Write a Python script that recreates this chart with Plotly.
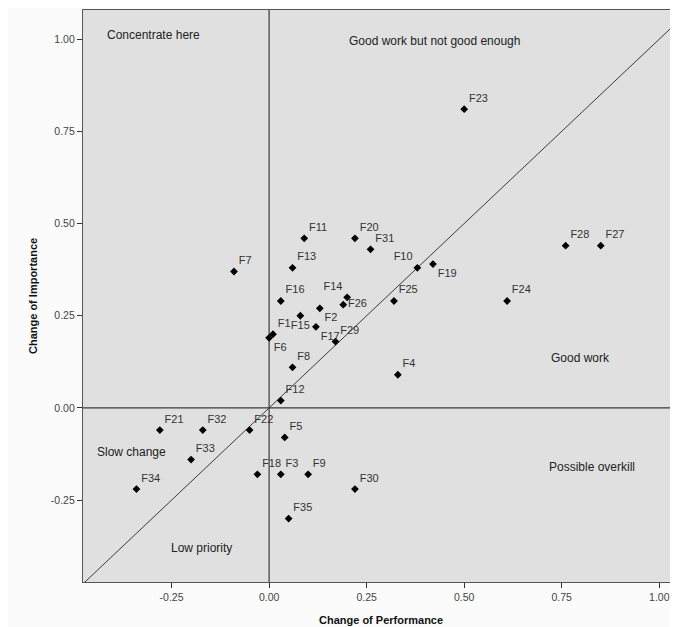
import plotly.graph_objects as go

labels = ["F1", "F2", "F3", "F4", "F5", "F6", "F7", "F8", "F9", "F10",
          "F11", "F12", "F13", "F14", "F15", "F16", "F17", "F18", "F19", "F20",
          "F21", "F22", "F23", "F24", "F25", "F26", "F27", "F28", "F29", "F30",
          "F31", "F32", "F33", "F34", "F35"]
performance = [0.01, 0.13, 0.03, 0.33, 0.04, 0.00, -0.09, 0.06, 0.10, 0.38,
               0.09, 0.03, 0.06, 0.20, 0.08, 0.03, 0.12, -0.03, 0.42, 0.22,
               -0.28, -0.05, 0.50, 0.61, 0.32, 0.19, 0.85, 0.76, 0.17, 0.22,
               0.26, -0.17, -0.20, -0.34, 0.05]
importance = [0.20, 0.27, -0.18, 0.09, -0.08, 0.19, 0.37, 0.11, -0.18, 0.38,
              0.46, 0.02, 0.38, 0.30, 0.25, 0.29, 0.22, -0.18, 0.39, 0.46,
              -0.06, -0.06, 0.81, 0.29, 0.29, 0.28, 0.44, 0.44, 0.18, -0.22,
              0.43, -0.06, -0.14, -0.22, -0.30]
label_pos = {"F2": "bottom right", "F6": "bottom right", "F10": "top left",
             "F14": "top left", "F15": "bottom center", "F17": "bottom right",
             "F19": "bottom right", "F26": "middle right"}
positions = [label_pos.get(l, "top right") for l in labels]

x_range = [-0.477, 1.048]
y_range = [-0.472, 1.079]
tick_vals = [-0.25, 0.0, 0.25, 0.5, 0.75, 1.0]
tick_text = ["-0.25", "0.00", "0.25", "0.50", "0.75", "1.00"]

quad_text = ["Concentrate here", "Good work but not good enough", "Good work",
             "Possible overkill", "Slow change", "Low priority"]
quad_x = [-0.297, 0.425, 0.797, 0.828, -0.353, -0.173]
quad_y = [1.01, 0.995, 0.135, -0.16, -0.119, -0.379]

line_col = "#3a3a3a"
fig = go.Figure()

# diagonal y = x
diag_lo = min(x_range[0], y_range[0]) - 0.05
diag_hi = max(x_range[1], y_range[1]) + 0.05
fig.add_trace(go.Scatter(x=[diag_lo, diag_hi], y=[diag_lo, diag_hi], mode="lines",
                         line=dict(color=line_col, width=1), hoverinfo="skip",
                         showlegend=False))

fig.add_trace(go.Scatter(
    x=performance, y=importance, mode="markers+text", text=labels,
    textposition=positions,
    textfont=dict(family="Liberation Sans, Arial", size=11, color="#333333"),
    marker=dict(symbol="diamond", size=6, color="#000000"),
    showlegend=False, cliponaxis=False))

fig.add_shape(type="line", x0=0, x1=0, y0=0, y1=1, xref="x", yref="paper",
              line=dict(color=line_col, width=1.2), layer="below")
fig.add_shape(type="line", x0=0, x1=1, y0=0, y1=0, xref="paper", yref="y",
              line=dict(color=line_col, width=1.2), layer="below")

for t, xx, yy in zip(quad_text, quad_x, quad_y):
    fig.add_annotation(x=xx, y=yy, text=t, showarrow=False,
                       font=dict(family="Liberation Sans, Arial", size=12, color="#222222"))

fig.add_annotation(x=0.5, y=0, xref="paper", yref="paper", yshift=-38,
                   xanchor="center", yanchor="middle",
                   text="<b>Change of Performance</b>", showarrow=False,
                   font=dict(family="Liberation Sans, Arial", size=11, color="#111111"))
fig.add_annotation(x=0, y=0.5, xref="paper", yref="paper", xshift=-50,
                   xanchor="center", yanchor="middle",
                   text="<b>Change of Importance</b>", showarrow=False, textangle=-90,
                   font=dict(family="Liberation Sans, Arial", size=11, color="#111111"))

axis_common = dict(showgrid=False, zeroline=False, showline=True, mirror=True,
                   linecolor="#555555", linewidth=1.2, ticks="outside", ticklen=5,
                   tickcolor="#333333", tickwidth=1.2,
                   tickfont=dict(family="Liberation Sans, Arial", size=10.5, color="#444444"),
                   tickvals=tick_vals, ticktext=tick_text, fixedrange=True)

fig.update_layout(
    width=670, height=619,
    margin=dict(l=75, r=0, t=2, b=45),
    paper_bgcolor="#fbfbfb", plot_bgcolor="#e0e0e0",
    xaxis=dict(range=x_range, **axis_common),
    yaxis=dict(range=y_range, **axis_common),
)

fig.write_html("out.html")
